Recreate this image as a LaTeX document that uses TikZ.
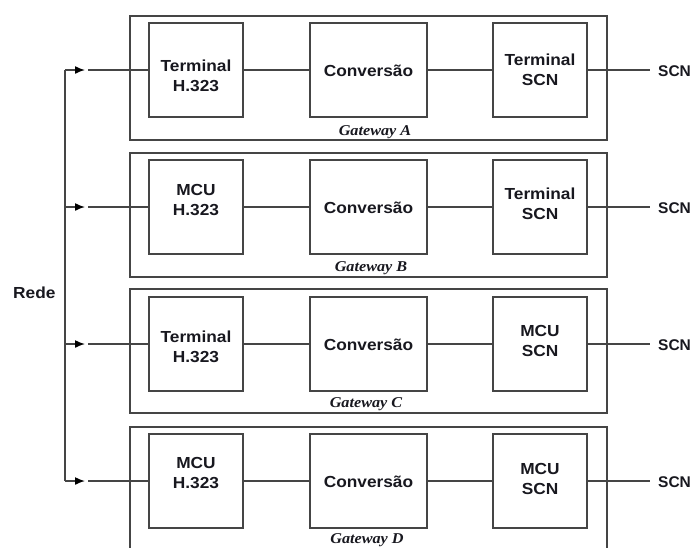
\documentclass[tikz,border=0pt]{standalone}
\usepackage{fontspec}
\setmainfont{Liberation Sans}[FakeStretch=1.08]
\newfontfamily\plainsans{Liberation Sans}
\newfontfamily\gwfont{Liberation Serif}[FakeStretch=1.08]
\usetikzlibrary{arrows.meta}
\definecolor{ln}{HTML}{454545}
\definecolor{tx}{HTML}{18181F}
\newcommand\lbltxt{\fontsize{16}{20}\selectfont\bfseries}
\newcommand\scntxt{\plainsans\fontsize{15.5}{18}\selectfont\bfseries}
\newcommand\gwtxt{\gwfont\fontsize{15}{18}\selectfont\bfseries\itshape}
\begin{document}
\begin{tikzpicture}[x=1pt,y=-1pt,
  box/.style={draw=ln, line width=1.5pt, inner sep=0pt, outer sep=0pt},
  gwbox/.style={box, minimum width=477pt},
  blk/.style={box, minimum width=94pt, minimum height=94pt},
  conv/.style={box, minimum width=117pt, minimum height=94pt},
  lbl/.style={inner sep=0pt, align=center, font=\lbltxt, text=tx},
  scnl/.style={inner sep=0pt, anchor=west, font=\scntxt, text=tx},
  gwl/.style={inner sep=0pt, anchor=base, font=\gwtxt, text=tx},
  wire/.style={draw=ln, line width=1.5pt},
  arr/.style={wire, -{Latex[length=10pt,width=8pt,color=black]}}]
\clip (0,0) rectangle (692,547);
\fill[white] (0,0) rectangle (692,547);
\useasboundingbox (0,0) rectangle (692,547);

\foreach \g/\gy/\gh/\y/\L/\ly/\R/\ry/\lx/\lb in {
  A/78/124/70/{Terminal\\H.323}/76/{Terminal\\SCN}/70/375/135,
  B/215/124/207/{MCU\\H.323}/200/{Terminal\\SCN}/204/371/271,
  C/351/124/344/{Terminal\\H.323}/347/{MCU\\SCN}/341/366/407,
  D/489/124/481/{MCU\\H.323}/473/{MCU\\SCN}/479/367/543}{
  \node[gwbox, minimum height=\gh pt] (g\g) at (368.5,\gy) {};
  \node[blk] (l\g) at (196,\y) {};
  \node[conv] (c\g) at (368.5,\y) {};
  \node[blk] (r\g) at (540,\y) {};
  \node[lbl] (lt\g) at (196,\ly) {\L};
  \node[lbl] (ct\g) at (368.5,\y+1) {Conversão};
  \node[lbl] (rt\g) at (540,\ry) {\R};
  \node[gwl] (gl\g) at (\lx,\lb) {Gateway \g};
  \coordinate (b\g) at (65,\y);
  \coordinate (t\g) at (85,\y);
  \coordinate (s\g) at (88,\y);
  \coordinate (e\g) at (650,\y);
  \node[scnl] (scn\g) at (658,\y+1) {SCN};
  \draw[arr] (b\g) -- (t\g);
  \draw[wire] (s\g) -- (l\g.west);
  \draw[wire] (l\g.east) -- (c\g.west);
  \draw[wire] (c\g.east) -- (r\g.west);
  \draw[wire] (r\g.east) -- (e\g);
}
\draw[wire] (bA) -- (bD);
\node[lbl, anchor=west] (rede) at (13,293) {Rede};
\end{tikzpicture}
\end{document}
